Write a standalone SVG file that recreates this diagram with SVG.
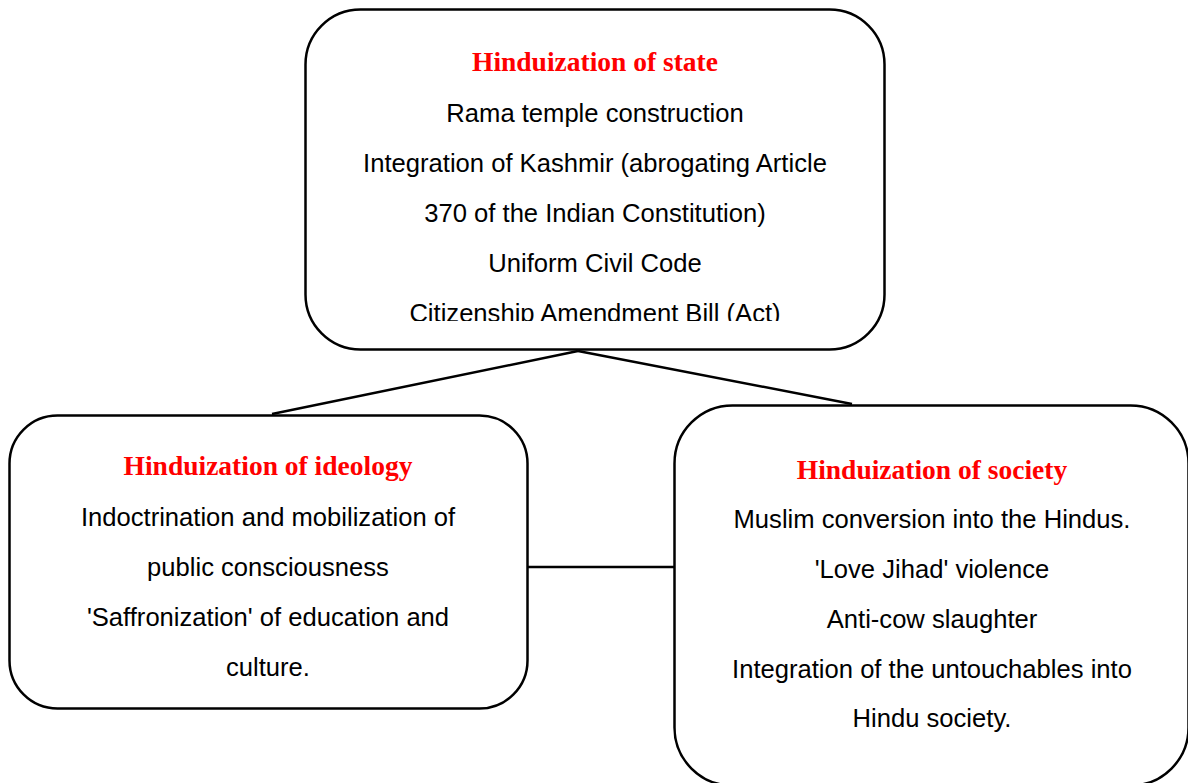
<svg xmlns="http://www.w3.org/2000/svg" width="1188" height="783" viewBox="0 0 1188 783">
  <style>
    .box { fill: #ffffff; stroke: #000000; stroke-width: 2.5; }
    .conn { stroke: #000000; stroke-width: 2.5; fill: none; }
    .title { font-family: "Liberation Serif", "Times New Roman", serif; font-weight: bold; font-size: 27.5px; fill: #ff0000; text-anchor: middle; }
    .body { font-family: "Liberation Sans", Arial, sans-serif; font-size: 25.6px; fill: #000000; text-anchor: middle; }
  </style>
  <defs>
    <clipPath id="clipTop">
      <rect x="305" y="9" width="580" height="312"/>
    </clipPath>
  </defs>
  <rect width="1188" height="783" fill="#ffffff"/>
  <g id="connectors">
    <line class="conn" x1="578" y1="351" x2="272" y2="414"/>
    <line class="conn" x1="578" y1="351" x2="852" y2="404"/>
    <line class="conn" x1="528" y1="567" x2="674" y2="567"/>
  </g>
  <g id="node-state">
    <rect class="box" x="305.5" y="9.5" width="579" height="340" rx="55" ry="55"/>
    <g clip-path="url(#clipTop)">
      <text class="title" x="595" y="71">Hinduization of state</text>
      <text class="body" x="595" y="122">Rama temple construction</text>
      <text class="body" x="595" y="172">Integration of Kashmir (abrogating Article</text>
      <text class="body" x="595" y="222">370 of the Indian Constitution)</text>
      <text class="body" x="595" y="272">Uniform Civil Code</text>
      <text class="body" x="595" y="322">Citizenship Amendment Bill (Act)</text>
    </g>
  </g>
  <g id="node-ideology">
    <rect class="box" x="9.5" y="415.5" width="518" height="293" rx="48" ry="48"/>
    <text class="title" x="268" y="475">Hinduization of ideology</text>
    <text class="body" x="268" y="526">Indoctrination and mobilization of</text>
    <text class="body" x="268" y="576">public consciousness</text>
    <text class="body" x="268" y="626">'Saffronization' of education and</text>
    <text class="body" x="268" y="676">culture.</text>
  </g>
  <g id="node-society">
    <rect class="box" x="674.5" y="405.5" width="514" height="380" rx="58" ry="58"/>
    <text class="title" x="932" y="479">Hinduization of society</text>
    <text class="body" x="932" y="528">Muslim conversion into the Hindus.</text>
    <text class="body" x="932" y="578">'Love Jihad' violence</text>
    <text class="body" x="932" y="628">Anti-cow slaughter</text>
    <text class="body" x="932" y="678">Integration of the untouchables into</text>
    <text class="body" x="932" y="727">Hindu society.</text>
  </g>
</svg>
